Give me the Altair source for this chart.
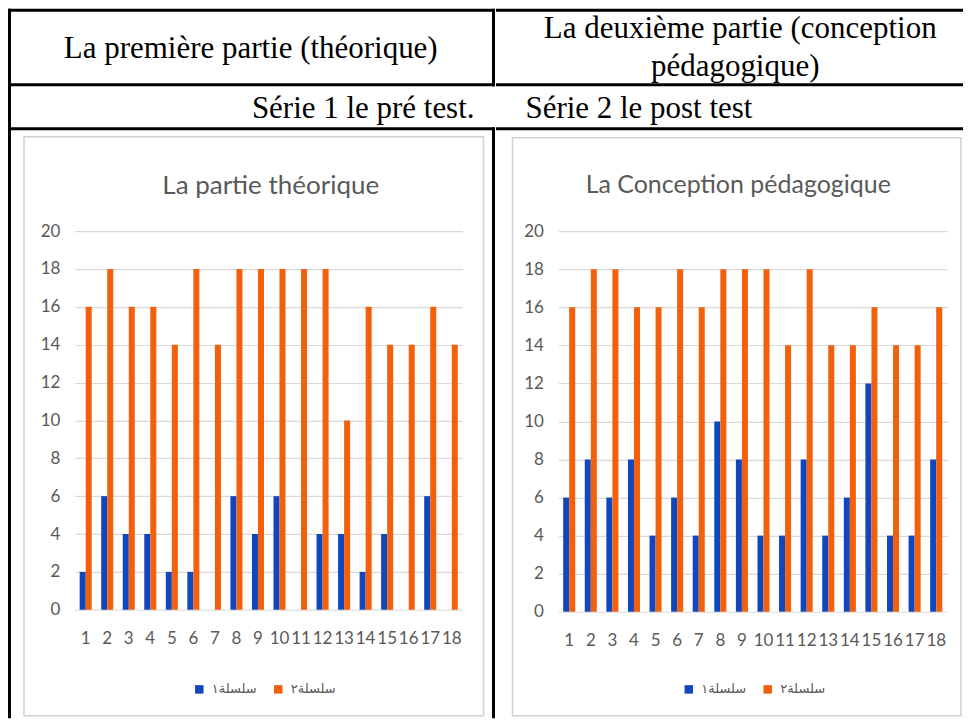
import altair as alt
import pandas as pd

# ---------------- data ----------------
categories = [1, 2, 3, 4, 5, 6, 7, 8, 9, 10, 11, 12, 13, 14, 15, 16, 17, 18]
series_names = ["سلسلة١", "سلسلة٢"]

theo_pre = [2, 6, 4, 4, 2, 2, 0, 6, 4, 6, 0, 4, 4, 2, 4, 0, 6, 0]
theo_post = [16, 18, 16, 16, 14, 18, 14, 18, 18, 18, 18, 18, 10, 16, 14, 14, 16, 14]
conc_pre = [6, 8, 6, 8, 4, 6, 4, 10, 8, 4, 4, 8, 4, 6, 12, 4, 4, 8]
conc_post = [16, 18, 18, 16, 16, 18, 16, 18, 18, 18, 14, 18, 14, 14, 16, 14, 14, 16]

y_ticks = [0, 2, 4, 6, 8, 10, 12, 14, 16, 18, 20]

header_left = "La première partie (théorique)"
header_right_1 = "La deuxième partie (conception"
header_right_2 = "pédagogique)"
series_note_1 = "Série 1 le pré test."
series_note_2 = "Série 2 le post test"
chart_titles = ["La partie théorique", "La Conception pédagogique"]

colors = ["#1146BD", "#F2600C"]
GRAY = "#595959"
one = pd.DataFrame({"k": [0]})


def block(x1, x2, y1, y2, color="black"):
    """A filled rectangle used for the table's black rules."""
    return alt.Chart(one).mark_rect(color=color).encode(
        x=alt.value(x1), x2=alt.value(x2), y=alt.value(y1), y2=alt.value(y2))


def label(text, x, y, align="center", font="Liberation Serif", size=31, color="black",
          baseline="middle"):
    return alt.Chart(one).mark_text(align=align, baseline=baseline, font=font,
                                    fontSize=size, color=color).encode(
        x=alt.value(x), y=alt.value(y), text=alt.value(text))


# ---------------- bar panels ----------------
def panel(pre, post, w, h, frame, legend_x, legend_y, extras):
    df = pd.DataFrame({
        "cat": categories + categories,
        "series": [series_names[0]] * len(categories) + [series_names[1]] * len(categories),
        "value": pre + post,
    })
    bars = alt.Chart(df).mark_bar().encode(
        x=alt.X("cat:O", title=None,
                scale=alt.Scale(paddingInner=0.44, paddingOuter=0.22),
                axis=alt.Axis(labelAngle=0, domain=False, ticks=False, grid=False,
                              labelPadding=21, labelFont="Lato", labelFontSize=17,
                              labelColor=GRAY, labelOverlap=False)),
        xOffset=alt.XOffset("series:N", sort=series_names,
                            scale=alt.Scale(domain=series_names, paddingInner=0, paddingOuter=0)),
        y=alt.Y("value:Q", title=None,
                scale=alt.Scale(domain=[0, 20], nice=False),
                axis=alt.Axis(values=y_ticks, domain=False, ticks=False, labelPadding=15,
                              labelFont="Lato", labelFontSize=17, labelColor=GRAY,
                              gridColor="#d9d9d9", gridWidth=1.2)),
        color=alt.Color("series:N",
                        scale=alt.Scale(domain=series_names, range=colors),
                        legend=alt.Legend(orient="none", legendX=legend_x, legendY=legend_y,
                                          direction="horizontal", title=None,
                                          symbolType="square", symbolSize=72,
                                          symbolStrokeWidth=0, labelFont="DejaVu Sans",
                                          labelFontSize=13, labelColor=GRAY,
                                          columnPadding=14, labelOffset=6)),
    )
    fx1, fx2, fy1, fy2 = frame
    frame_layer = alt.Chart(one).mark_rect(fill="transparent", stroke="#d0d0d0",
                                           strokeWidth=1.5).encode(
        x=alt.value(fx1), x2=alt.value(fx2), y=alt.value(fy1), y2=alt.value(fy2))
    return alt.layer(frame_layer, *extras, bars).properties(width=w, height=h)


# Left panel: plot origin at page (75, 230.5)
left_extras = [
    block(-67, 420.5, -222.5, -219.5),     # top table rule
    block(-67, 420.5, -148, -145),         # rule under first row
    block(-67, 420.5, -104, -101),         # rule under second row
    block(-67, -64, -222.5, 487.5),        # left border
    block(417.5, 420.5, -222.5, -145),     # middle divider, first row
    block(417.5, 420.5, -104, 487.5),      # middle divider, chart row
    label(header_left, 176, -182.5),
    label(series_note_1, 400, -122.5, align="right"),
    label(chart_titles[0], 196, -37.5, align="center", font="Lato", size=26, color=GRAY,
          baseline="alphabetic"),
]
# Right panel: plot origin at page (558, 230.5)
right_extras = [
    block(-62.5, 405, -222.5, -219.5),
    block(-62.5, 405, -148, -145),
    block(-62.5, 405, -104, -101),
    label(header_right_1, 182, -202.5),
    label(header_right_2, 177, -164.5),
    label(series_note_2, -33, -122.5, align="left"),
    label(chart_titles[1], 180, -38.5, align="center", font="Lato", size=25, color=GRAY,
          baseline="alphabetic"),
]

left = panel(theo_pre, theo_post, 388, 379, (-51, 409, -94.5, 485), 118, 452, left_extras)
right = panel(conc_pre, conc_post, 389, 381, (-46, 403, -93.5, 485), 124, 452, right_extras)

chart = alt.hconcat(left, right, spacing=0).resolve_scale(color="independent").properties(
    padding=0).configure_view(strokeWidth=0)

chart.save("out.html", embed_options={"renderer": "svg", "actions": False})
